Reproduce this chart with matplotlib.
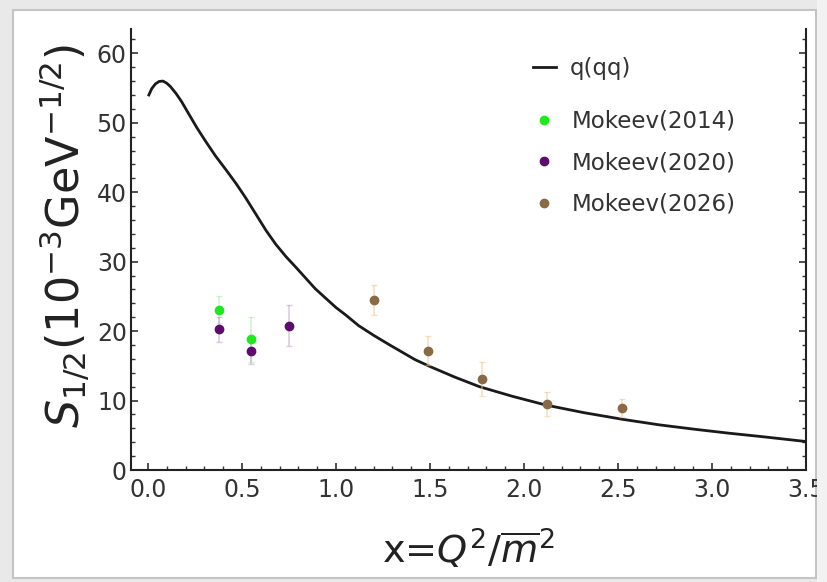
import matplotlib
matplotlib.use("Agg")
import matplotlib.pyplot as plt
from matplotlib.patches import Rectangle
from matplotlib.lines import Line2D
from matplotlib.ticker import MultipleLocator

# Curve q(qq)
curve_x = [0.005, 0.02, 0.04, 0.06, 0.08, 0.10, 0.12, 0.15, 0.18, 0.221, 0.26, 0.31, 0.36,
           0.416, 0.47, 0.522, 0.575, 0.628, 0.68, 0.735, 0.79, 0.84, 0.89, 0.947, 1.0,
           1.053, 1.12, 1.2, 1.28, 1.35, 1.42, 1.5, 1.63, 1.763, 1.94, 2.117, 2.32,
           2.524, 2.72, 2.913, 3.09, 3.267, 3.5]
curve_y = [54.0, 54.9, 55.6, 55.95, 56.0, 55.7, 55.2, 54.2, 53.0, 51.1, 49.3, 47.2, 45.2,
           43.2, 41.2, 39.1, 36.8, 34.5, 32.5, 30.7, 29.1, 27.6, 26.1, 24.7, 23.4,
           22.3, 20.8, 19.4, 18.1, 17.0, 15.9, 14.9, 13.4, 12.0, 10.6, 9.35, 8.25,
           7.3, 6.5, 5.85, 5.3, 4.8, 4.1]

# Mokeev(2014)
m14_x = [0.376, 0.55]
m14_y = [23.1, 18.8]
m14_e = [2.0, 3.2]

# Mokeev(2020)
m20_x = [0.376, 0.55, 0.75]
m20_y = [20.3, 17.1, 20.8]
m20_e = [1.8, 1.9, 2.9]

# Mokeev(2026)
m26_x = [1.204, 1.487, 1.776, 2.12, 2.52]
m26_y = [24.5, 17.2, 13.1, 9.5, 8.9]
m26_e = [2.2, 2.1, 2.4, 1.7, 1.3]

x_ticks = [0, 0.5, 1.0, 1.5, 2.0, 2.5, 3.0, 3.5]
x_ticklabels = ["0.0", "0.5", "1.0", "1.5", "2.0", "2.5", "3.0", "3.5"]

c14, c20, c26 = "#1fe81f", "#5e0a6e", "#8a6a45"

fig = plt.figure(figsize=(8.28, 5.82), dpi=100)
fig.patch.set_facecolor("#e9e9e9")
W, H = 828, 582
fig.add_artist(Rectangle((13 / W, 4 / H), (816 - 13) / W, (572 - 4) / H,
                         transform=fig.transFigure, facecolor="white",
                         edgecolor="#c4c4c4", linewidth=1.5, zorder=-5))
fig.add_artist(Rectangle((817 / W, 0), 11 / W, 1, transform=fig.transFigure,
                         facecolor="#f2f2f2", edgecolor="none", zorder=10))

ax = fig.add_axes([131 / W, 1 - 470 / H, (806 - 131) / W, (470 - 29) / H])
ax.set_facecolor("none")

ax.plot(curve_x, curve_y, color="#1a1a1a", lw=2.0, zorder=3)

ax.errorbar(m14_x, m14_y, yerr=m14_e, fmt="o", ms=6, color=c14,
            ecolor=(0.6, 0.88, 0.6, 0.45), elinewidth=1.2, capsize=2.5, zorder=4)
ax.errorbar(m20_x, m20_y, yerr=m20_e, fmt="o", ms=6, color=c20,
            ecolor=(0.72, 0.6, 0.75, 0.5), elinewidth=1.2, capsize=2.5, zorder=4)
ax.errorbar(m26_x, m26_y, yerr=m26_e, fmt="o", ms=6, color=c26,
            ecolor=(0.93, 0.78, 0.55, 0.55), elinewidth=1.2, capsize=2.5, zorder=4)

ax.set_xlim(-0.09, 3.5)
ax.set_ylim(0, 63.5)
ax.xaxis.set_minor_locator(MultipleLocator(0.1))
ax.yaxis.set_major_locator(MultipleLocator(10))
ax.yaxis.set_minor_locator(MultipleLocator(2))
ax.set_xticks(x_ticks)
ax.set_xticklabels(x_ticklabels)

ax.spines["top"].set_visible(False)
for s in ["left", "bottom", "right"]:
    ax.spines[s].set_linewidth(1.5)
    ax.spines[s].set_color("#222222")

ax.tick_params(which="both", direction="in", left=True, right=True, bottom=True,
               top=False, color="#333333")
ax.tick_params(which="major", length=5, width=1.2, labelsize=17,
               labelcolor="#333333")
ax.tick_params(which="minor", length=3, width=1.0)
ax.tick_params(axis="x", which="major", pad=6)
ax.tick_params(axis="y", which="major", pad=3)

ax.set_xlabel(r"x=$Q^2/\overline{m}^2$", fontsize=27.5, color="#222222")
ax.xaxis.set_label_coords(0.5, -0.13)
ax.set_ylabel(r"$S_{1/2}(10^{-3}\mathrm{GeV}^{-1/2})$", fontsize=32,
              color="#222222")
ax.yaxis.set_label_coords(-0.058, 0.53)

h_line = [Line2D([], [], color="#1a1a1a", lw=2.0)]
leg1 = ax.legend(h_line, ["q(qq)"], loc="upper left",
                 bbox_to_anchor=((533 - 131) / 675, (470 - 57) / 441),
                 frameon=False, fontsize=16.5, handlelength=1.0, handletextpad=0.6,
                 borderpad=0, borderaxespad=0)
for t in leg1.get_texts():
    t.set_color("#333333")
ax.add_artist(leg1)

h_pts = [Line2D([], [], ls="none", marker="o", ms=6, color=c) for c in (c14, c20, c26)]
leg2 = ax.legend(h_pts, ["Mokeev(2014)", "Mokeev(2020)", "Mokeev(2026)"],
                 loc="upper left",
                 bbox_to_anchor=((533 - 131) / 675, (470 - 110) / 441),
                 frameon=False, fontsize=16.5, handlelength=1.0, handletextpad=0.7,
                 labelspacing=0.8, borderpad=0, borderaxespad=0)
for t in leg2.get_texts():
    t.set_color("#333333")

fig.savefig("out.png", dpi=100, facecolor=fig.get_facecolor())
